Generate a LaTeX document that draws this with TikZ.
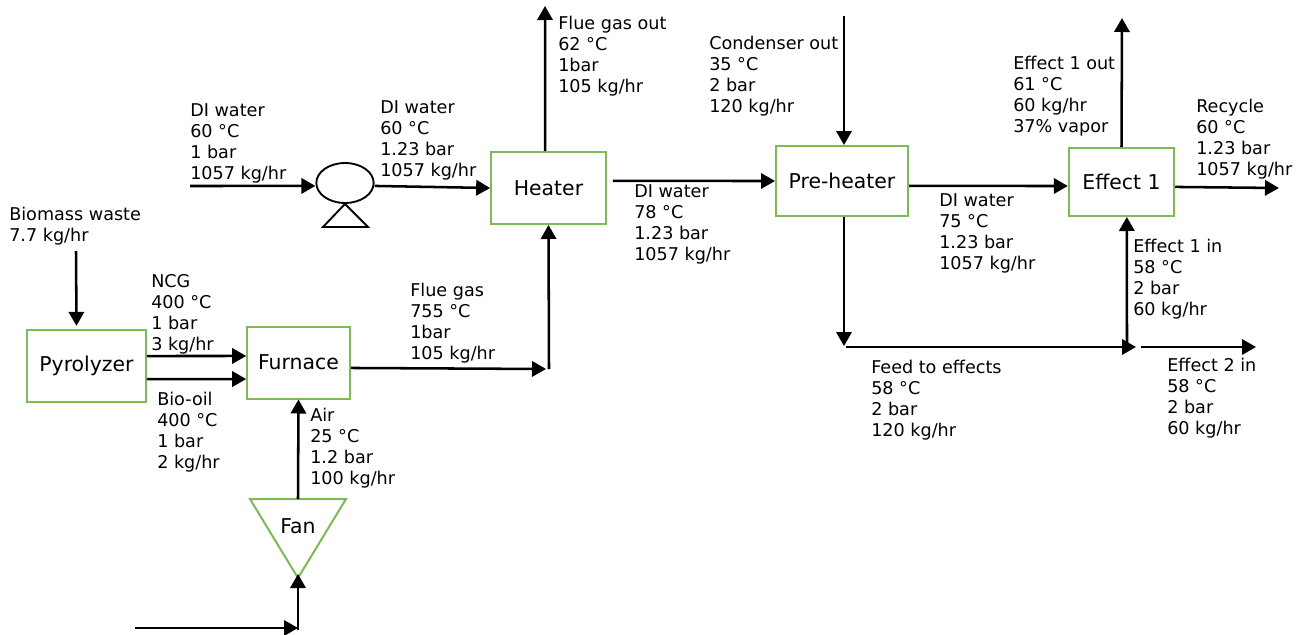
\documentclass[tikz,border=0pt]{standalone}
\usepackage{fontspec}
\setmainfont{DejaVu Sans}
\usetikzlibrary{shapes.geometric, arrows.meta, positioning}
\definecolor{unitgreen}{HTML}{7DB955}

\begin{document}
\begin{tikzpicture}[
  x=0.75pt, y=-0.75pt,
  unit/.style={rectangle, draw=unitgreen, line width=1.5pt, inner sep=0pt,
               minimum height=54pt, text centered,
               font=\fontsize{15.3}{17}\selectfont},
  stream/.style={align=left, anchor=north west, inner sep=0pt, yshift=-0.8pt,
                 font=\fontsize{13.2}{15.75}\selectfont},
  arr/.style={-{Triangle[length=10.5pt,width=11.5pt]}, line width=1.9pt, black},
  plain/.style={line width=1.4pt, black}
]
\useasboundingbox (0,0) rectangle (1303,635);

% units
\node[unit, minimum width=89pt] (pyrolyzer) at (86.5,365.5) {Pyrolyzer};
\node[unit, minimum width=77pt] (furnace) at (298.5,362.5) {Furnace};
\node[unit, minimum width=86pt] (heater) at (548.5,188) {Heater};
\node[unit, minimum width=99pt, minimum height=52.5pt] (preheater) at (842,181) {Pre-heater};
\node[unit, minimum width=79pt, minimum height=51pt] (effect) at (1121.5,182) {Effect 1};

% fan and pump
\coordinate (fantop) at (298,499);
\coordinate (fantip) at (298,574);
\draw[draw=unitgreen, line width=1.5pt] (250,499) -- (346,499) -- (298,578) -- cycle;
\node[inner sep=0pt, font=\fontsize{15.3}{17}\selectfont] (fan) at (298,526) {Fan};
\node[ellipse, draw, plain, inner sep=0pt, minimum width=43pt, minimum height=30pt] (pump) at (345,183) {};
\draw[plain] (pump.south) -- (323,227) -- (368,227) -- cycle;

% free ends
\coordinate (biomassin) at (76,251);
\coordinate (airin) at (135,628);
\coordinate (aircorner) at (298,628);
\coordinate (aircornerup) at (298,630);
\coordinate (waterin) at (190,186);
\coordinate (fluejoin) at (546,369);
\coordinate (flueup) at (549,369);
\coordinate (flueout) at (545,6);
\coordinate (condenserin) at (844,16);
\coordinate (effectout) at (1122,18);
\coordinate (recycle) at (1279,188);
\coordinate (feedturn) at (844,346);
\coordinate (feedstart) at (846,347);
\coordinate (feedend) at (1136,347);
\coordinate (effectjoin) at (1127,347);
\coordinate (secondstart) at (1141,347);
\coordinate (secondend) at (1256,347);

% streams
\draw[arr] (biomassin) -- ([xshift=-7.5pt,yshift=2pt]pyrolyzer.north);
\draw[arr] ([yshift=7.1pt]pyrolyzer.east) -- ([yshift=4.9pt]furnace.west);
\draw[arr] ([yshift=-10.2pt]pyrolyzer.east) -- ([yshift=-12.4pt]furnace.west);
\draw[arr] ([yshift=-4.1pt]furnace.east) -- (fluejoin);
\draw[arr] (flueup) -- (heater.south);
\draw[arr] (fantop) -- (furnace.south);
\draw[arr] (airin) -- (aircorner);
\draw[arr] (aircornerup) -- (fantip);
\draw[arr] (waterin) -- ([yshift=-2.2pt]pump.west);
\draw[arr] ([yshift=-2.2pt]pump.east) -- (heater.west);
\draw[arr] ([xshift=-2.5pt]heater.north) -- (flueout);
\draw[arr] ([xshift=4.5pt,yshift=5.3pt]heater.east) -- (preheater.west);
\draw[arr] (condenserin) -- ([xshift=1.5pt]preheater.north);
\draw[arr] ([yshift=-3.7pt]preheater.east) -- ([yshift=-3pt]effect.west);
\draw[arr] (effect.north) -- (effectout);
\draw[arr] ([yshift=-3.7pt]effect.east) -- (recycle);
\draw[arr] ([xshift=1.5pt]preheater.south) -- (feedturn);
\draw[arr] (feedstart) -- (feedend);
\draw[arr] (effectjoin) -- ([xshift=4pt]effect.south);
\draw[arr] (secondstart) -- (secondend);

% labels
\node[stream] (biomasslabel) at (9,206) {Biomass waste\\7.7 kg/hr};
\node[stream] (ncglabel) at (151,273) {NCG\\400 °C\\1 bar\\3 kg/hr};
\node[stream] (biooillabel) at (157,391) {Bio-oil\\400 °C\\1 bar\\2 kg/hr};
\node[stream] (fluelabel) at (410,282) {Flue gas\\755 °C\\1bar\\105 kg/hr};
\node[stream] (airlabel) at (310,407) {Air\\25 °C\\1.2 bar\\100 kg/hr};
\node[stream] (waterlabel) at (190,102) {DI water\\60 °C\\1 bar\\1057 kg/hr};
\node[stream] (pumpedlabel) at (380,99) {DI water\\60 °C\\1.23 bar\\1057 kg/hr};
\node[stream] (flueoutlabel) at (558,15) {Flue gas out\\62 °C\\1bar\\105 kg/hr};
\node[stream] (heatedlabel) at (634,183) {DI water\\78 °C\\1.23 bar\\1057 kg/hr};
\node[stream] (condenserlabel) at (709,35) {Condenser out\\35 °C\\2 bar\\120 kg/hr};
\node[stream] (effectoutlabel) at (1013,55) {Effect 1 out\\61 °C\\60 kg/hr\\37\% vapor};
\node[stream] (recyclelabel) at (1196,98) {Recycle\\60 °C\\1.23 bar\\1057 kg/hr};
\node[stream] (preheatedlabel) at (939,192) {DI water\\75 °C\\1.23 bar\\1057 kg/hr};
\node[stream] (effectinlabel) at (1133,238) {Effect 1 in\\58 °C\\2 bar\\60 kg/hr};
\node[stream] (feedlabel) at (871,359) {Feed to effects\\58 °C\\2 bar\\120 kg/hr};
\node[stream] (secondlabel) at (1167,357) {Effect 2 in\\58 °C\\2 bar\\60 kg/hr};

\end{tikzpicture}
\end{document}
